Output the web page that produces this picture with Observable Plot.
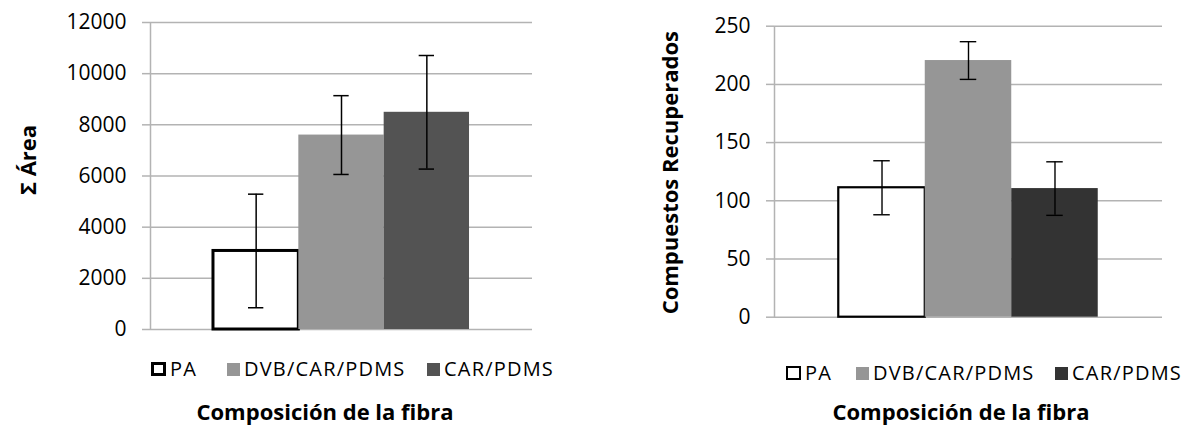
<!DOCTYPE html>
<html>
<head>
<meta charset="utf-8">
<script src="https://cdn.jsdelivr.net/npm/d3@7"></script>
<script src="https://cdn.jsdelivr.net/npm/@observablehq/plot@0.6"></script>
<style>
  html, body { margin: 0; padding: 0; background: #fff; }
  #root { position: relative; width: 1183px; height: 427px; font-family: "Open Sans", sans-serif; color: #000; overflow: hidden; }
  .chart { position: absolute; top: 0; }
  .legend { position: absolute; font-size: 20px; letter-spacing: 1.2px; line-height: 1; white-space: nowrap; }
  .item { position: absolute; top: 0; display: flex; align-items: center; }
  .sw { display: inline-block; width: 13px; height: 13px; margin-right: 4px; box-sizing: border-box; }
  .xtitle { position: absolute; font-weight: bold; font-size: 22px; white-space: nowrap; transform: translateX(-50%); line-height: 1; }
</style>
</head>
<body>
<div id="root">
  <div id="left" class="chart" style="left:0px"></div>
  <div id="right" class="chart" style="left:590px"></div>
</div>
<script>
// ---- data ----
const fibras = ["PA", "DVB/CAR/PDMS", "CAR/PDMS"];
const areaMedia = [3070, 7600, 8490];
const areaError = [2220, 1540, 2220];
const compMedia = [111.2, 220.5, 110.5];
const compError = [23.2, 16.2, 23.0];
const areaTicks = [0, 2000, 4000, 6000, 8000, 10000, 12000];
const compTicks = [0, 50, 100, 150, 200, 250];
const leftTitleY = "Σ Área";
const rightTitleY = "Compuestos Recuperados";
const titleX = "Composición de la fibra";

const fillsLeft = ["#ffffff", "#969696", "#535353"];
const fillsRight = ["#ffffff", "#969696", "#333333"];

function makeChart({media, error, ticks, yMax, fills, ytitle, width, height, mL, mR, mT, mB, padOuter, titleDx, titleDy, paStroke, errWidth}) {
  const data = fibras.map((f, i) => ({fibra: f, v: media[i], lo: media[i] - error[i], hi: media[i] + error[i], fill: fills[i], stroke: i === 0 ? "#000000" : fills[i], sw: i === 0 ? paStroke : 0}));
  const fw = width - mL - mR, fh = height - mT - mB;
  return Plot.plot({
    width, height,
    marginLeft: mL, marginRight: mR, marginTop: mT, marginBottom: mB,
    style: {fontFamily: "Open Sans", background: "transparent", overflow: "visible"},
    x: {domain: fibras, paddingInner: 0, paddingOuter: padOuter, round: false, axis: null},
    y: {domain: [0, yMax], axis: null},
    marks: [
      Plot.ruleY(ticks, {stroke: "#b3b3b3", strokeWidth: 1.5}),
      Plot.axisY({ticks, tickSize: 8, tickPadding: 16, stroke: "#b3b3b3", strokeWidth: 1.5, fill: "#000", fontSize: 21, tickFormat: d => String(d), label: null}),
      // left axis line: frame outline shown only along its left side
      Plot.frame({stroke: "#b3b3b3", strokeWidth: 1.5, strokeDasharray: `0 ${2 * fw + fh} ${fh} 0`}),
      Plot.barY(data.filter(d => d.sw > 0), {x: "fibra", y: "v", fill: "fill", stroke: "stroke", strokeWidth: paStroke}),
      Plot.barY(data.filter(d => d.sw === 0), {x: "fibra", y: "v", fill: "fill"}),
      Plot.ruleX(data, {x: "fibra", y1: "lo", y2: "hi", stroke: "#000", strokeWidth: errWidth}),
      Plot.tickY(data, {x: "fibra", y: "lo", stroke: "#000", strokeWidth: errWidth, insetLeft: 35, insetRight: 35}),
      Plot.tickY(data, {x: "fibra", y: "hi", stroke: "#000", strokeWidth: errWidth, insetLeft: 35, insetRight: 35}),
      Plot.text([ytitle], {text: d => d, frameAnchor: "left", textAnchor: "middle", rotate: -90, dx: titleDx, dy: titleDy, fontSize: 22, fontWeight: "bold", fill: "#000"})
    ]
  });
}

const leftSvg = makeChart({media: areaMedia, error: areaError, ticks: areaTicks, yMax: 12000, fills: fillsLeft, ytitle: leftTitleY,
  width: 560, height: 345, mL: 150, mR: 28, mT: 22, mB: 16, padOuter: 0.738, titleDx: -122, titleDy: -16, paStroke: 3, errWidth: 1.5});
const rightSvg = makeChart({media: compMedia, error: compError, ticks: compTicks, yMax: 250, fills: fillsRight, ytitle: rightTitleY,
  width: 593, height: 345, mL: 184, mR: 21, mT: 25.7, mB: 28.3, padOuter: 0.743, titleDx: -104, titleDy: 1, paStroke: 2.2, errWidth: 1.4});
document.getElementById("left").appendChild(leftSvg);
document.getElementById("right").appendChild(rightSvg);

// ---- legends and x titles ----
const root = document.getElementById("root");
function legend(top, lefts, fills, boxBorder) {
  const lg = document.createElement("div");
  lg.className = "legend";
  lg.style.top = top + "px";
  lg.style.left = "0px";
  fibras.forEach((f, i) => {
    const it = document.createElement("div");
    it.className = "item";
    it.style.left = lefts[i] + "px";
    const sw = document.createElement("span");
    sw.className = "sw";
    sw.style.background = fills[i];
    if (i === 0) { sw.style.border = boxBorder + "px solid #000"; sw.style.width = "15px"; sw.style.height = "14px"; }
    const tx = document.createElement("span");
    tx.textContent = f;
    it.appendChild(sw); it.appendChild(tx);
    lg.appendChild(it);
  });
  root.appendChild(lg);
}
legend(359, [151, 227, 427], fillsLeft, 3);
legend(363, [786, 856, 1055], fillsRight, 2.5);

function xtitle(cx, top) {
  const t = document.createElement("div");
  t.className = "xtitle";
  t.style.left = cx + "px";
  t.style.top = top + "px";
  t.textContent = titleX;
  root.appendChild(t);
}
xtitle(325, 400);
xtitle(961, 400);
</script>
</body>
</html>
